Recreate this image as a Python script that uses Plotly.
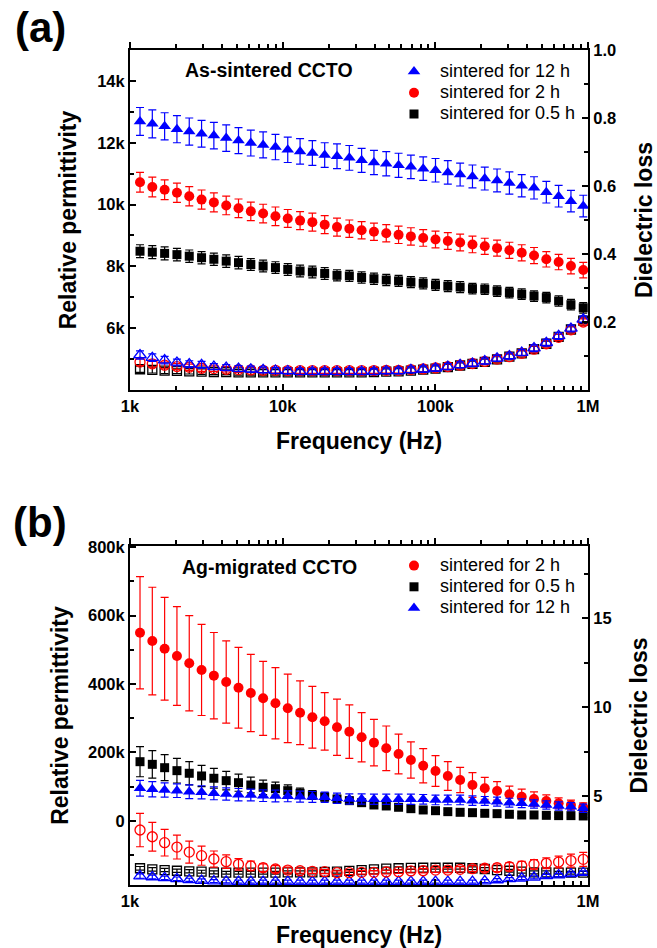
import plotly.graph_objects as go

# ---------------- data ----------------
freq = [1163, 1400, 1686, 2030, 2444, 2943, 3543, 4267, 5137, 6185,
        7447, 8969, 10797, 13002, 15650, 18849, 22693, 27334, 32897, 39619,
        47698, 57438, 69167, 83272, 100250, 120710, 145350, 175050, 210760, 253700,
        305490, 367960, 442990, 533330, 642130, 773220, 930930]

x_tick_vals = [1000, 10000, 100000, 1000000]
x_tick_text = ["1k", "10k", "100k", "1M"]
x_minor_vals = [2000, 3000, 4000, 5000, 6000, 7000, 8000, 9000,
                20000, 30000, 40000, 50000, 60000, 70000, 80000, 90000,
                200000, 300000, 400000, 500000, 600000, 700000, 800000, 900000]

# panel (a): as-sintered
perm_a_12h = [12690, 12610, 12530, 12440, 12360, 12290, 12230, 12150, 12070, 11990,
              11930, 11860, 11770, 11720, 11670, 11600, 11560, 11510, 11430, 11360,
              11320, 11270, 11220, 11160, 11110, 11040, 10970, 10910, 10840, 10780,
              10700, 10610, 10540, 10400, 10270, 10110, 9950]
perm_a_12h_err = [450, 450, 440, 440, 440, 430, 430, 430, 420, 420,
                  420, 410, 410, 410, 400, 400, 400, 400, 390, 390,
                  390, 390, 380, 380, 380, 380, 370, 370, 370, 370,
                  360, 360, 360, 350, 350, 350, 350]
perm_a_2h = [10720, 10570, 10480, 10380, 10270, 10160, 10070, 9970, 9880, 9780,
             9710, 9620, 9550, 9480, 9430, 9350, 9270, 9220, 9170, 9120,
             9070, 9020, 8970, 8920, 8870, 8820, 8770, 8710, 8650, 8590,
             8520, 8440, 8350, 8230, 8140, 8010, 7880]
perm_a_2h_err = [320, 320, 320, 310, 310, 310, 310, 300, 300, 300,
                 300, 300, 290, 290, 290, 290, 290, 280, 280, 280,
                 280, 280, 280, 270, 270, 270, 270, 270, 260, 260,
                 260, 260, 260, 250, 250, 250, 250]
perm_a_05h = [8490, 8460, 8420, 8380, 8330, 8280, 8230, 8170, 8120, 8060,
              8010, 7960, 7900, 7850, 7820, 7770, 7710, 7690, 7640, 7600,
              7560, 7530, 7490, 7450, 7400, 7360, 7330, 7280, 7260, 7200,
              7150, 7100, 7040, 6990, 6880, 6760, 6660]
perm_a_05h_err = [210, 210, 210, 200, 200, 200, 200, 200, 200, 190,
                  190, 190, 190, 190, 190, 190, 180, 180, 180, 180,
                  180, 180, 180, 180, 180, 180, 180, 170, 170, 170,
                  170, 170, 170, 170, 170, 170, 170]

loss_a_12h = [0.103, 0.095, 0.088, 0.081, 0.076, 0.074, 0.069, 0.066, 0.063, 0.061,
              0.059, 0.057, 0.056, 0.054, 0.054, 0.054, 0.054, 0.054, 0.054, 0.054,
              0.056, 0.056, 0.059, 0.061, 0.064, 0.069, 0.074, 0.078, 0.085, 0.093,
              0.100, 0.110, 0.123, 0.139, 0.159, 0.181, 0.208]
loss_a_12h_err = [0.012, 0.011, 0.011, 0.010, 0.010, 0.010, 0.009, 0.009, 0.009, 0.009,
                  0.009, 0.009, 0.009, 0.009, 0.009, 0.009, 0.009, 0.009, 0.009, 0.009,
                  0.009, 0.009, 0.009, 0.009, 0.009, 0.009, 0.009, 0.009, 0.009, 0.009,
                  0.009, 0.009, 0.010, 0.010, 0.010, 0.010, 0.010]
loss_a_2h = [0.082, 0.077, 0.073, 0.069, 0.067, 0.064, 0.063, 0.061, 0.060, 0.059,
             0.058, 0.058, 0.057, 0.057, 0.057, 0.057, 0.057, 0.057, 0.057, 0.057,
             0.058, 0.058, 0.060, 0.062, 0.065, 0.069, 0.073, 0.078, 0.084, 0.091,
             0.098, 0.108, 0.120, 0.136, 0.155, 0.177, 0.200]
loss_a_2h_err = [0.010, 0.010, 0.009, 0.009, 0.009, 0.009, 0.008, 0.008, 0.008, 0.008,
                 0.008, 0.008, 0.008, 0.008, 0.008, 0.008, 0.008, 0.008, 0.008, 0.008,
                 0.008, 0.008, 0.008, 0.008, 0.008, 0.008, 0.008, 0.008, 0.008, 0.008,
                 0.008, 0.008, 0.009, 0.009, 0.009, 0.009, 0.009]
loss_a_05h = [0.061, 0.059, 0.057, 0.056, 0.055, 0.054, 0.053, 0.053, 0.052, 0.052,
              0.052, 0.052, 0.052, 0.052, 0.052, 0.052, 0.052, 0.052, 0.052, 0.053,
              0.054, 0.055, 0.057, 0.060, 0.063, 0.067, 0.072, 0.077, 0.083, 0.090,
              0.098, 0.108, 0.120, 0.136, 0.156, 0.178, 0.204]
loss_a_05h_err = [0.009, 0.009, 0.009, 0.008, 0.008, 0.008, 0.008, 0.008, 0.008, 0.008,
                  0.008, 0.008, 0.008, 0.008, 0.008, 0.008, 0.008, 0.008, 0.008, 0.008,
                  0.008, 0.008, 0.008, 0.008, 0.008, 0.008, 0.008, 0.008, 0.008, 0.008,
                  0.008, 0.008, 0.008, 0.008, 0.008, 0.008, 0.008]

# panel (b): Ag-migrated
perm_b_2h = [549800, 525500, 503100, 481800, 460500, 441000, 424400, 405800, 389200, 373700,
             358200, 343600, 329000, 316200, 302800, 291000, 273600, 260800, 244400, 228700,
             212300, 195600, 178100, 161500, 146000, 131400, 119700, 105100, 95400, 87600,
             77900, 70900, 64200, 58400, 51700, 46700, 40000]
perm_b_2h_err = [164000, 157000, 150000, 144000, 139000, 133000, 126000, 120000, 118000, 113000,
                 108000, 104000, 100000, 93000, 90000, 84000, 82000, 78000, 72000, 68000,
                 65000, 58000, 53000, 50000, 45000, 42000, 37000, 36000, 32000, 27000,
                 24000, 22000, 21000, 18000, 16000, 14000, 13000]
perm_b_05h = [173100, 165400, 155600, 146900, 139300, 131400, 124700, 117700, 111800, 105100,
              98300, 94300, 88500, 80900, 75900, 70000, 64000, 59300, 53400, 46700,
              43800, 40000, 35900, 32100, 30000, 27200, 25300, 24200, 22400, 21300,
              19500, 17500, 17500, 16500, 15600, 15600, 14600]
perm_b_05h_err = [44000, 40000, 38000, 36000, 34000, 31000, 29000, 27000, 25000, 23000,
                  21000, 19000, 17000, 15000, 13000, 12000, 11000, 10000, 9000, 8000,
                  8000, 7000, 7000, 6000, 6000, 6000, 5000, 5000, 5000, 5000,
                  5000, 5000, 5000, 5000, 5000, 5000, 5000]
perm_b_12h = [95400, 92600, 90500, 88500, 85500, 83800, 80900, 78800, 76800, 75900,
              73900, 73000, 72100, 70900, 70100, 69200, 66300, 64200, 64200, 63300,
              63300, 63300, 63300, 63300, 61300, 61300, 61300, 59300, 58400, 56400,
              53400, 51700, 49600, 46700, 43800, 41800, 37100]
perm_b_12h_err = [23000, 22000, 21000, 20000, 20000, 19000, 19000, 18000, 18000, 17000,
                  17000, 17000, 16000, 16000, 16000, 15000, 15000, 15000, 15000, 15000,
                  15000, 15000, 15000, 14000, 14000, 14000, 14000, 14000, 13000, 13000,
                  13000, 13000, 12000, 12000, 12000, 12000, 12000]

loss_b_2h = [3.09, 2.71, 2.38, 2.13, 1.85, 1.65, 1.46, 1.31, 1.16, 1.07,
             0.97, 0.90, 0.84, 0.80, 0.77, 0.75, 0.69, 0.69, 0.71, 0.71,
             0.73, 0.75, 0.79, 0.80, 0.84, 0.84, 0.88, 0.92, 0.94, 0.97,
             1.03, 1.08, 1.16, 1.22, 1.29, 1.37, 1.44]
loss_b_2h_err = [0.94, 0.81, 0.75, 0.67, 0.62, 0.54, 0.45, 0.38, 0.32, 0.27,
                 0.22, 0.19, 0.16, 0.14, 0.12, 0.11, 0.10, 0.10, 0.10, 0.10,
                 0.10, 0.10, 0.11, 0.12, 0.13, 0.14, 0.15, 0.17, 0.19, 0.21,
                 0.23, 0.25, 0.27, 0.30, 0.33, 0.36, 0.39]
loss_b_05h = [0.94, 0.88, 0.84, 0.80, 0.77, 0.75, 0.71, 0.69, 0.69, 0.69,
              0.69, 0.69, 0.71, 0.71, 0.71, 0.73, 0.75, 0.79, 0.84, 0.88,
              0.92, 0.94, 0.96, 0.97, 0.97, 0.97, 0.97, 0.94, 0.90, 0.84,
              0.80, 0.75, 0.71, 0.71, 0.69, 0.69, 0.69]
loss_b_05h_err = [0.10, 0.10, 0.09, 0.09, 0.09, 0.08, 0.08, 0.08, 0.08, 0.08,
                  0.08, 0.08, 0.08, 0.08, 0.08, 0.08, 0.08, 0.08, 0.08, 0.08,
                  0.08, 0.08, 0.08, 0.08, 0.08, 0.08, 0.08, 0.08, 0.08, 0.08,
                  0.08, 0.08, 0.08, 0.08, 0.08, 0.08, 0.08]
loss_b_12h = [0.50, 0.45, 0.40, 0.35, 0.29, 0.25, 0.22, 0.20, 0.19, 0.19,
              0.19, 0.19, 0.19, 0.19, 0.19, 0.19, 0.19, 0.19, 0.19, 0.19,
              0.19, 0.19, 0.19, 0.19, 0.19, 0.19, 0.19, 0.19, 0.22, 0.28,
              0.34, 0.38, 0.43, 0.51, 0.56, 0.62, 0.69]
loss_b_12h_err = [0.12, 0.11, 0.10, 0.10, 0.09, 0.09, 0.08, 0.08, 0.08, 0.08,
                  0.08, 0.08, 0.08, 0.08, 0.08, 0.08, 0.08, 0.08, 0.08, 0.08,
                  0.08, 0.08, 0.08, 0.08, 0.08, 0.08, 0.08, 0.08, 0.08, 0.08,
                  0.08, 0.08, 0.09, 0.09, 0.09, 0.10, 0.10]

names = {"12h": "sintered for 12 h", "2h": "sintered for 2 h", "05h": "sintered for 0.5 h"}
colors = {"12h": "#0000FF", "2h": "#FF0000", "05h": "#000000"}
symbols = {"12h": "triangle-up", "2h": "circle", "05h": "square"}
sizes = {"12h": 11, "2h": 10, "05h": 9}

# ---------------- figure ----------------
W, H = 657, 948
FONT = "Liberation Sans, Arial, Helvetica, sans-serif"
tickfont = dict(family=FONT, size=16.5, color="black", weight="bold")
titlefont = dict(family=FONT, size=23, color="black", weight="bold")

xdom = [130 / W, 588 / W]
ydom_a = [1 - 390 / H, 1 - 50 / H]
ydom_b = [1 - 885 / H, 1 - 546 / H]

fig = go.Figure()


def add_series(key, x, y, err, xa, ya, filled, legend, rank):
    sym = symbols[key] if filled else symbols[key] + "-open"
    fig.add_trace(go.Scatter(
        x=x, y=y, mode="markers",
        name='<span style="font-size:18px">' + names[key] + "</span>",
        xaxis=xa, yaxis=ya, cliponaxis=False,
        showlegend=filled, legend=legend, legendrank=rank,
        marker=dict(symbol=sym, size=sizes[key], color=colors[key],
                    line=dict(width=1.3 if not filled else 0, color=colors[key])),
        error_y=dict(type="data", array=err, color=colors[key], thickness=1.2, width=4),
    ))


# panel (a) : open (loss, right axis) then filled (permittivity, left axis)
add_series("05h", freq, loss_a_05h, loss_a_05h_err, "x", "y2", False, "legend", 3)
add_series("2h", freq, loss_a_2h, loss_a_2h_err, "x", "y2", False, "legend", 2)
add_series("12h", freq, loss_a_12h, loss_a_12h_err, "x", "y2", False, "legend", 1)
add_series("05h", freq, perm_a_05h, perm_a_05h_err, "x", "y", True, "legend", 3)
add_series("2h", freq, perm_a_2h, perm_a_2h_err, "x", "y", True, "legend", 2)
add_series("12h", freq, perm_a_12h, perm_a_12h_err, "x", "y", True, "legend", 1)

# panel (b)
add_series("05h", freq, loss_b_05h, loss_b_05h_err, "x2", "y4", False, "legend2", 2)
add_series("12h", freq, loss_b_12h, loss_b_12h_err, "x2", "y4", False, "legend2", 3)
add_series("2h", freq, loss_b_2h, loss_b_2h_err, "x2", "y4", False, "legend2", 1)
add_series("2h", freq, perm_b_2h, perm_b_2h_err, "x2", "y3", True, "legend2", 1)
add_series("05h", freq, perm_b_05h, perm_b_05h_err, "x2", "y3", True, "legend2", 2)
add_series("12h", freq, perm_b_12h, perm_b_12h_err, "x2", "y3", True, "legend2", 3)

# empty traces so the mirrored top axes are drawn
fig.add_trace(go.Scatter(x=[], y=[], xaxis="x3", yaxis="y", showlegend=False, hoverinfo="skip"))
fig.add_trace(go.Scatter(x=[], y=[], xaxis="x4", yaxis="y3", showlegend=False, hoverinfo="skip"))

common_line = dict(showline=True, linewidth=2, linecolor="black", showgrid=False,
                   zeroline=False, tickcolor="black", tickwidth=1.5, ticklen=6,
                   automargin=False)


def xcfg(anchor):
    return dict(type="log", range=[3, 6], domain=xdom, anchor=anchor,
                tickmode="array", tickvals=x_tick_vals, ticktext=x_tick_text,
                ticks="inside", tickfont=tickfont,
                minor=dict(tickvals=x_minor_vals, ticks="inside", ticklen=4,
                           tickwidth=1.5, tickcolor="black"),
                title=dict(text="Frequency (Hz)", font=titlefont, standoff=19),
                **common_line)


def xtop(overlay, anchor):
    return dict(type="log", range=[3, 6], overlaying=overlay, anchor=anchor, side="top",
                tickmode="array", tickvals=x_tick_vals, showticklabels=False,
                ticks="outside",
                minor=dict(tickvals=x_minor_vals, ticks="outside", ticklen=4,
                           tickwidth=1.5, tickcolor="black"),
                **common_line)


def ycfg(dom, anchor, rng, vals, text, minor, title, standoff):
    return dict(domain=dom, anchor=anchor, range=rng, tickmode="array",
                tickvals=vals, ticktext=text, ticks="inside", tickfont=tickfont,
                minor=dict(tickvals=minor, ticks="inside", ticklen=4,
                           tickwidth=1.5, tickcolor="black"),
                title=dict(text=title, font=titlefont, standoff=standoff),
                **common_line)


def y2cfg(overlay, anchor, rng, vals, text, minor, title, standoff):
    return dict(overlaying=overlay, anchor=anchor, side="right", range=rng,
                tickmode="array", tickvals=vals, ticktext=text, ticks="inside",
                tickfont=tickfont,
                minor=dict(tickvals=minor, ticks="inside", ticklen=4,
                           tickwidth=1.5, tickcolor="black"),
                title=dict(text=title, font=titlefont, standoff=standoff),
                **common_line)


ya_vals = [6000, 8000, 10000, 12000, 14000]
ya_text = ["6k", "8k", "10k", "12k", "14k"]
ya_minor = [5000, 7000, 9000, 11000, 13000]
y2a_vals = [0.2, 0.4, 0.6, 0.8, 1.0]
y2a_text = ["0.2", "0.4", "0.6", "0.8", "1.0"]
y2a_minor = [0.1, 0.3, 0.5, 0.7, 0.9]
yb_vals = [0, 200000, 400000, 600000, 800000]
yb_text = ["0", "200k", "400k", "600k", "800k"]
yb_minor = [-100000, 100000, 300000, 500000, 700000]
y2b_vals = [5, 10, 15]
y2b_text = ["5", "10", "15"]
y2b_minor = [2.5, 7.5, 12.5, 17.5]

legend_common = dict(xanchor="left", yanchor="top", bgcolor="rgba(0,0,0,0)",
                     font=dict(family=FONT, size=14, color="black"),
                     itemwidth=42, traceorder="normal", tracegroupgap=0)

fig.update_layout(
    width=W, height=H, margin=dict(l=0, r=0, t=0, b=0, autoexpand=False),
    paper_bgcolor="white", plot_bgcolor="white",
    font=dict(family=FONT, color="black"),
    xaxis=xcfg("y"),
    xaxis2=xcfg("y3"),
    xaxis3=xtop("x", "y"),
    xaxis4=xtop("x2", "y3"),
    yaxis=ycfg(ydom_a, "x", [4000, 15000], ya_vals, ya_text, ya_minor,
               "Relative permittivity", 14),
    yaxis2=y2cfg("y", "x", [0, 1], y2a_vals, y2a_text, y2a_minor, "Dielectric loss", 20),
    yaxis3=ycfg(ydom_b, "x2", [-187000, 803000], yb_vals, yb_text, yb_minor,
                "Relative permittivity", 13),
    yaxis4=y2cfg("y3", "x2", [0, 19.05], y2b_vals, y2b_text, y2b_minor, "Dielectric loss", 20),
    legend=dict(x=388 / W, y=1 - 56 / H, **legend_common),
    legend2=dict(x=388 / W, y=1 - 550 / H, **legend_common),
    annotations=[
        dict(text="(a)", x=40 / W, y=1 - 27.5 / H, xref="paper", yref="paper",
             showarrow=False, xanchor="center", yanchor="middle",
             font=dict(family=FONT, size=42, color="black", weight="bold")),
        dict(text="(b)", x=40 / W, y=1 - 522.5 / H, xref="paper", yref="paper",
             showarrow=False, xanchor="center", yanchor="middle",
             font=dict(family=FONT, size=42, color="black", weight="bold")),
        dict(text="As-sintered CCTO", x=269 / W, y=1 - 70 / H, xref="paper", yref="paper",
             showarrow=False, xanchor="center", yanchor="middle",
             font=dict(family=FONT, size=19.5, color="black", weight="bold")),
        dict(text="Ag-migrated CCTO", x=269 / W, y=1 - 566.7 / H, xref="paper", yref="paper",
             showarrow=False, xanchor="center", yanchor="middle",
             font=dict(family=FONT, size=19.5, color="black", weight="bold")),
    ],
)

fig.write_html("out.html",
               config={"displayModeBar": False},
               post_script="document.body.style.margin='0px';"
                           "document.body.style.overflow='hidden';")
